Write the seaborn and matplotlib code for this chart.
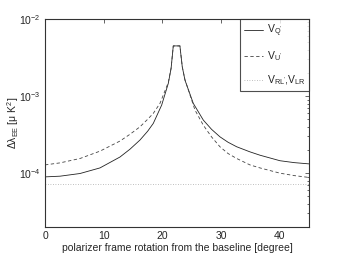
import matplotlib
matplotlib.use('Agg')
import matplotlib.pyplot as plt
import seaborn as sns

# rotation angle [degree] and residual
q_angle = [0, 2.56, 5.97, 9.37, 12.78, 14.5, 16.19, 17.5, 18.46, 19.89, 21.02, 21.5,
           21.87, 23.0, 23.4, 23.86, 25.28, 26.99, 28.4, 29.83, 31.2, 32.68, 34.94,
           36.65, 40.06, 42.5, 45]
q_vals = [8.95e-5, 9.14e-5, 9.9e-5, 1.17e-4, 1.62e-4, 2.05e-4, 2.69e-4, 3.5e-4,
          4.42e-4, 7.64e-4, 1.46e-3, 2.3e-3, 4.47e-3, 4.47e-3, 2.4e-3, 1.61e-3,
          8.04e-4, 4.88e-4, 3.7e-4, 2.96e-4, 2.52e-4, 2.20e-4, 1.89e-4, 1.71e-4,
          1.45e-4, 1.37e-4, 1.32e-4]

u_angle = [0, 2.56, 5.97, 9.37, 12.78, 14.5, 16.19, 17.5, 18.46, 19.6, 21.02, 21.5,
           21.87, 23.0, 23.4, 23.86, 25.57, 26.98, 28.4, 29.83, 31.2, 32.68, 34.94,
           36.65, 40.06, 42.5, 45]
u_vals = [1.28e-4, 1.36e-4, 1.55e-4, 1.93e-4, 2.61e-4, 3.2e-4, 3.99e-4, 5.0e-4,
          5.96e-4, 8.04e-4, 1.5e-3, 2.3e-3, 4.47e-3, 4.47e-3, 2.4e-3, 1.63e-3,
          6.58e-4, 4.2e-4, 2.95e-4, 2.20e-4, 1.80e-4, 1.55e-4, 1.28e-4, 1.17e-4,
          1.0e-4, 9.3e-5, 8.8e-5]

rl_angle = [0, 45]
rl_vals = [7.3e-5, 7.3e-5]

sns.set_style('white')
plt.rcParams['font.family'] = ['Liberation Sans', 'DejaVu Sans']
plt.rcParams['mathtext.fontset'] = 'custom'
plt.rcParams['mathtext.rm'] = 'Liberation Sans'
plt.rcParams['mathtext.it'] = 'Liberation Sans'
plt.rcParams['font.size'] = 7.5

fig = plt.figure(figsize=(3.41, 2.56), dpi=100)
ax = fig.add_axes([0.132, 0.113, 0.774, 0.813])

sns.lineplot(x=q_angle, y=q_vals, ax=ax, color='#222222', lw=0.6,
             label=r"$\mathrm{V_{Q'}}$")
sns.lineplot(x=u_angle, y=u_vals, ax=ax, color='#444444', lw=0.6,
             linestyle=(0, (4, 3)), label=r"$\mathrm{V_{U'}}$")
sns.lineplot(x=rl_angle, y=rl_vals, ax=ax, color='#aaaaaa', lw=0.6,
             linestyle=(0, (1, 2)), label=r"$\mathrm{V_{RL'}}$,$\mathrm{V_{LR}}$")

ax.set_yscale('log')
ax.set_xlim(0, 45)
ax.set_ylim(2e-5, 1e-2)
ax.set_xticks([0, 10, 20, 30, 40])
ax.set_yticks([1e-4, 1e-3, 1e-2])
ax.tick_params(which='both', direction='in', top=True, right=True,
               length=3, width=0.5, labelsize=7.5, pad=3)
ax.tick_params(which='minor', length=1.5)
for s in ax.spines.values():
    s.set_linewidth(0.8)
    s.set_color('#333333')

ax.set_xlabel('polarizer frame rotation from the baseline [degree]', fontsize=7.5, labelpad=1)
ax.set_ylabel(r'$\Delta\lambda_{EE}$ [$\mu$ K$^2$]', fontsize=7.5)
ax.yaxis.set_label_coords(-0.09, 0.5)

leg = ax.legend(loc='upper right', fancybox=False, frameon=True, edgecolor='#222222',
                borderaxespad=0, handlelength=1.9, labelspacing=1.0,
                fontsize=7.5, handletextpad=0.3, borderpad=0.35)
leg.get_frame().set_linewidth(0.8)

fig.savefig('out.png', dpi=100)
